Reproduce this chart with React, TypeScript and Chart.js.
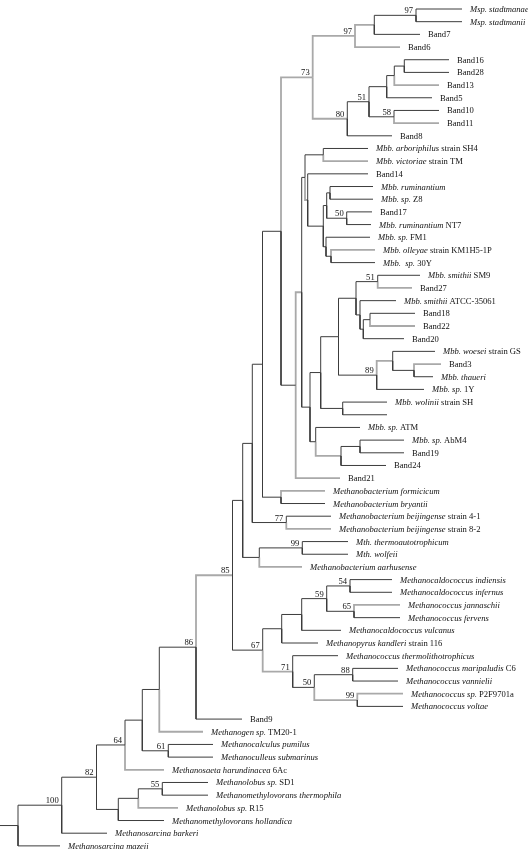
import React, { useEffect, useRef } from 'react';
import { Chart, registerables } from 'chart.js';

Chart.register(...registerables);

// ---------- leaves (top to bottom) ----------
const leafTaxa = [
  'Msp. stadtmanae', 'Msp. stadtmanii', '', '', '', '', '', '', '', '', '',
  'Mbb. arboriphilus', 'Mbb. victoriae', '', 'Mbb. ruminantium', 'Mbb. sp.', '', 'Mbb. ruminantium', 'Mbb. sp.', 'Mbb. olleyae', 'Mbb.  sp.',
  'Mbb. smithii', '', 'Mbb. smithii', '', '', '', 'Mbb. woesei', '', 'Mbb. thaueri', 'Mbb. sp.', 'Mbb. wolinii', '',
  'Mbb. sp.', 'Mbb. sp.', '', '', '', 'Methanobacterium formicicum', 'Methanobacterium bryantii', 'Methanobacterium beijingense', 'Methanobacterium beijingense', 'Mth. thermoautotrophicum', 'Mth. wolfeii', 'Methanobacterium aarhusense',
  'Methanocaldococcus indiensis', 'Methanocaldococcus infernus', 'Methanococcus jannaschii', 'Methanococcus fervens', 'Methanocaldococcus vulcanus', 'Methanopyrus kandleri', 'Methanococcus thermolithotrophicus', 'Methanococcus maripaludis', 'Methanococcus vannielii', 'Methanococcus sp.', 'Methanococcus voltae',
  '', 'Methanogen sp.', 'Methanocalculus pumilus', 'Methanoculleus submarinus', 'Methanosaeta harundinacea', 'Methanolobus sp.', 'Methanomethylovorans thermophila', 'Methanolobus sp.', 'Methanomethylovorans hollandica', 'Methanosarcina barkeri', 'Methanosarcina mazeii',
];
const leafStrains = [
  '', '', 'Band7', 'Band6', 'Band16', 'Band28', 'Band13', 'Band5', 'Band10', 'Band11', 'Band8',
  ' strain SH4', ' strain TM', 'Band14', '', ' Z8', 'Band17', ' NT7', ' FM1', ' strain KM1H5-1P', ' 30Y',
  ' SM9', 'Band27', ' ATCC-35061', 'Band18', 'Band22', 'Band20', ' strain GS', 'Band3', '', ' 1Y', ' strain SH', '',
  ' ATM', ' AbM4', 'Band19', 'Band24', 'Band21', '', '', ' strain 4-1', ' strain 8-2', '', '', '',
  '', '', '', '', '', ' strain 116', '', ' C6', '', ' P2F9701a', '',
  'Band9', ' TM20-1', '', '', ' 6Ac', ' SD1', '', ' R15', '', '', '',
];
const leafParents = [
  'n97t', 'n97t', 'n97b', 'n97', 'nW', 'nW', 'nV', 'nU', 'n58', 'n58', 'n80',
  'nArb', 'nArb', 'nD', 'nRum', 'nRum', 'n50a', 'n50a', 'nG', 'nF', 'nF',
  'n51b', 'n51b', 'nAt', 'nB18', 'nB18', 'nB20', 'nWoe', 'nTh', 'nTh', 'n89', 'nWol', 'nWol',
  'nM', 'nP', 'nP', 'nO', 'nJ', 'nForm', 'nForm', 'n77', 'n77', 'n99a', 'n99a', 'nS',
  'n54', 'n54', 'n65', 'n65', 'n67b', 'n67a', 'n71', 'n88', 'n88', 'n99b', 'n99b',
  'n86', 'nZ', 'n61', 'n61', 'n64', 'n55', 'n55', 'nX2', 'nX', 'n100', 'root',
];
const leafTips = [
  462, 462, 420, 400, 449, 449, 439, 432, 439, 439, 392,
  368, 368, 368, 373, 373, 372, 371, 370, 375, 375,
  420, 412, 396, 415, 415, 404, 435, 441, 433, 424, 387, 387,
  360, 404, 404, 386, 340, 325, 325, 331, 331, 348, 348, 302,
  392, 392, 400, 400, 341, 318, 338, 398, 398, 403, 403,
  242, 203, 213, 213, 164, 208, 208, 178, 164, 107, 60,
];

// ---------- internal nodes ----------
const nodeNames = [
  'root', 'n100', 'n82', 'n64', 'nY', 'nZ', 'n86', 'n85', 'nR', 'nQ', 'nB', 'nA', 'n73', 'n97', 'n97b', 'n97t',
  'n80', 'n51', 'nU', 'nV', 'nW', 'n58', 'nJ', 'nI', 'nC', 'nArb', 'nD', 'nH', 'nE', 'nRum', 'n50a', 'nG', 'nF',
  'nK', 'nL', 'nN', 'nSm', 'n51b', 'nAt', 'nB20', 'nB18', 'n89', 'nWoe', 'nTh', 'nWol', 'nM', 'nO', 'nP',
  'nForm', 'n77', 'nS', 'n99a', 'n67', 'n67a', 'n67b', 'n59', 'n54', 'n65', 'n71', 'n50b', 'n88', 'n99b',
  'n61', 'nX', 'nX2', 'n55',
];
const nodeParents = [
  '', 'root', 'n100', 'n82', 'n64', 'nY', 'nZ', 'n86', 'n85', 'nR', 'nQ', 'nB', 'nA', 'n73', 'n97', 'n97b',
  'n73', 'n80', 'n51', 'nU', 'nV', 'n51', 'nA', 'nJ', 'nI', 'nC', 'nC', 'nD', 'nH', 'nE', 'nE', 'nH', 'nG',
  'nI', 'nK', 'nL', 'nN', 'nSm', 'nSm', 'nAt', 'nB20', 'nN', 'n89', 'nWoe', 'nL', 'nK', 'nM', 'nO',
  'nB', 'nQ', 'nR', 'nS', 'n85', 'n67', 'n67a', 'n67b', 'n59', 'n59', 'n67', 'n71', 'n50b', 'n50b',
  'nY', 'n82', 'nX', 'nX2',
];
const nodeDepths = [
  18, 61.7, 96.5, 125, 142.3, 159.3, 196, 232.5, 242.7, 252.3, 262.5, 281, 312.7, 355, 374.3, 416,
  347.3, 369, 386.7, 394.3, 404.3, 394, 295.7, 301.7, 305, 323.3, 307.7, 323.3, 326.7, 330, 346.7, 326, 331,
  310, 320.7, 338.5, 356, 377.7, 360, 363.3, 370, 376.7, 392.7, 414, 342.7, 315.7, 341, 360,
  281, 286.3, 259.3, 302.3, 262.7, 281.7, 301.7, 326.7, 350, 354, 292.7, 314.3, 352.7, 357.3,
  168.3, 118.3, 138.3, 162.3,
];
const nodeSupport: (number | null)[] = [
  null, 100, 82, 64, null, null, 86, 85, null, null, null, null, 73, 97, null, 97,
  80, 51, null, null, null, 58, null, null, null, null, null, null, null, null, 50, null, null,
  null, null, null, null, 51, null, null, null, 89, null, null, null, null, null, null,
  null, 77, null, 99, 67, null, null, 59, 54, 65, 71, 50, 88, 99,
  61, null, null, 55,
];

// branches drawn in the lighter grey tone
const greyLeaves = [3, 6, 9, 12, 19, 22, 25, 28, 37, 38, 41, 44, 47, 54, 57, 60, 63];
const greyNodes = ['n97', 'n97b', 'n73', 'n80', 'nD', 'nI', 'nWoe', 'nO', 'n85', 'n71', 'n99b'];

const W = 528;
const H = 852;
const DARK = '#3c3c3c';
const GREY = '#a9a9a9';
const ITALIC = 'italic 8.6px "Liberation Serif", "Times New Roman", serif';
const ROMAN = '8.6px "Liberation Serif", "Times New Roman", serif';

export default function App() {
  const canvasRef = useRef<HTMLCanvasElement | null>(null);

  useEffect(() => {
    const canvas = canvasRef.current;
    if (!canvas) return;

    const idx = new Map<string, number>();
    nodeNames.forEach((n, i) => idx.set(n, i));
    // children: leaves encoded as -(i+1)
    const kids: number[][] = nodeNames.map(() => []);
    leafParents.forEach((p, i) => kids[idx.get(p)!].push(-(i + 1)));
    nodeParents.forEach((p, i) => {
      if (p) kids[idx.get(p)!].push(i);
    });
    const nodeY: number[] = nodeNames.map(() => NaN);
    const getY = (k: number): number => {
      if (!isNaN(nodeY[k])) return nodeY[k];
      const ys = kids[k].map((c) => (c < 0 ? -c - 1 : getY(c)));
      nodeY[k] = (Math.min(...ys) + Math.max(...ys)) / 2;
      return nodeY[k];
    };
    nodeNames.forEach((_, k) => getY(k));

    const datasets: any[] = [];
    const addBranch = (px: number, py: number, cx: number, cy: number, grey: boolean) => {
      datasets.push({
        data: [
          { x: px, y: py },
          { x: px, y: cy },
          { x: cx, y: cy },
        ],
        showLine: true,
        borderColor: grey ? GREY : DARK,
        backgroundColor: grey ? GREY : DARK,
        borderWidth: grey ? 1.8 : 1,
        pointRadius: 0,
        pointHoverRadius: 0,
        tension: 0,
        fill: false,
        clip: false,
        order: grey ? 2 : 1,
      });
    };
    const rootK = idx.get('root')!;
    addBranch(0, nodeY[rootK], nodeDepths[rootK], nodeY[rootK], false);
    nodeParents.forEach((p, k) => {
      if (!p) return;
      const pk = idx.get(p)!;
      addBranch(nodeDepths[pk], nodeY[pk], nodeDepths[k], nodeY[k], greyNodes.includes(nodeNames[k]));
    });
    leafParents.forEach((p, i) => {
      const pk = idx.get(p)!;
      addBranch(nodeDepths[pk], nodeY[pk], leafTips[i], i, greyLeaves.includes(i));
    });

    const labelPlugin = {
      id: 'treeLabels',
      afterDatasetsDraw(chart: any) {
        const { ctx } = chart;
        const xs = chart.scales.x;
        const ys = chart.scales.y;
        ctx.save();
        ctx.fillStyle = '#111';
        ctx.textBaseline = 'alphabetic';
        ctx.textAlign = 'left';
        leafTaxa.forEach((taxon, i) => {
          let px = xs.getPixelForValue(leafTips[i]) + 8;
          const py = ys.getPixelForValue(i) + 3;
          if (taxon) {
            ctx.font = ITALIC;
            ctx.fillText(taxon, px, py);
            px += ctx.measureText(taxon).width;
          }
          if (leafStrains[i]) {
            ctx.font = ROMAN;
            ctx.fillText(leafStrains[i], px, py);
          }
        });
        ctx.font = ROMAN;
        ctx.textAlign = 'right';
        nodeSupport.forEach((s, k) => {
          if (s == null) return;
          ctx.fillText(String(s), xs.getPixelForValue(nodeDepths[k]) - 3, ys.getPixelForValue(nodeY[k]) - 2);
        });
        ctx.restore();
      },
    };

    const chart = new Chart(canvas, {
      type: 'scatter',
      data: { datasets },
      options: {
        responsive: false,
        maintainAspectRatio: false,
        animation: false,
        events: [],
        layout: { padding: 0 },
        plugins: { legend: { display: false }, tooltip: { enabled: false } },
        scales: {
          x: { type: 'linear', min: 0, max: W, display: false },
          y: { type: 'linear', min: -0.71, max: -0.71 + H / 12.68, reverse: true, display: false },
        },
      },
      plugins: [labelPlugin],
    });
    return () => chart.destroy();
  }, []);

  return (
    <div style={{ position: 'absolute', left: 0, top: 0, width: W, height: H, background: '#fff' }}>
      <canvas ref={canvasRef} width={W} height={H} />
    </div>
  );
}
